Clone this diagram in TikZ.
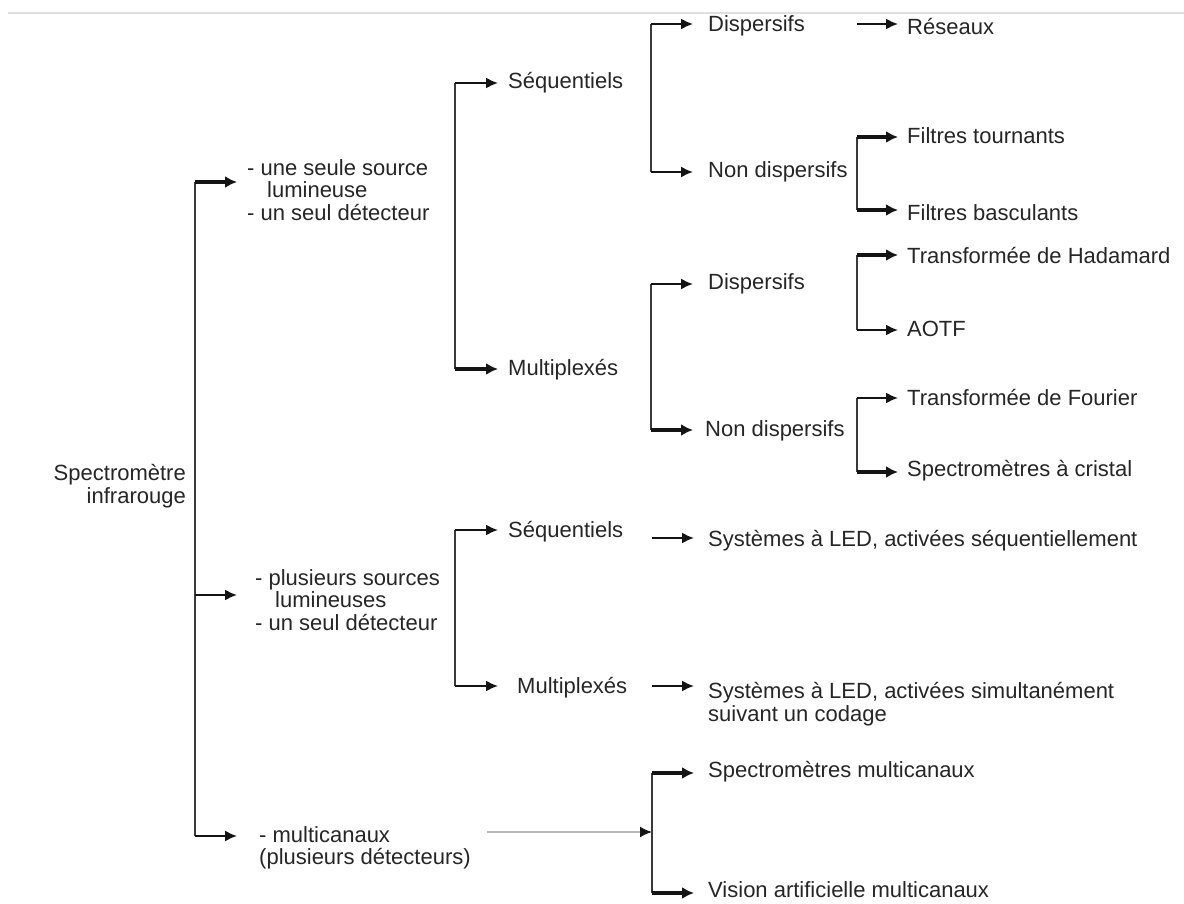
\documentclass[tikz,border=0pt]{standalone}
\usepackage{fontspec}
\setmainfont{Liberation Sans}
\usetikzlibrary{arrows.meta}
\definecolor{ink}{HTML}{141414}
\definecolor{busc}{HTML}{3A3A3A}
\definecolor{txt}{HTML}{262626}
\begin{document}
\begin{tikzpicture}[x=1pt,y=-1pt,
  lbl/.style={anchor=west, inner xsep=10pt, inner ysep=0pt, text=txt,
              font=\fontsize{22}{22.5}\selectfont, align=left},
  bus/.style={draw=busc, line width=1.6pt},
  arr/.style={draw=ink, line width=1.9pt, -{Latex[length=12pt,width=11pt]}},
  tarr/.style={draw=ink, line width=3.6pt, -{Latex[length=12pt,width=12pt]}},
  garr/.style={draw=gray!55, line width=1.7pt, -{Latex[length=12pt,width=11pt,color=ink]}}]
\useasboundingbox (0,0) rectangle (1184,904);
\fill[white] (0,0) rectangle (1184,904);
\draw[gray!25, line width=1.5pt] (8,13) -- (1184,13);

% root
\node[lbl, anchor=east, align=right, inner xsep=0pt] (root) at (186,486) {Spectromètre\\infrarouge};

% main bus
\coordinate (m1) at (195,182);
\coordinate (m2) at (195,595);
\coordinate (m3) at (195,836);
\draw[bus] (m1) -- (m3);

\node[lbl] (n1) at (237,190) {- une seule source\\\hspace*{20pt}lumineuse\\- un seul détecteur};
\node[lbl, inner xsep=18pt] (n2) at (237,600) {- plusieurs sources\\\hspace*{20pt}lumineuses\\- un seul détecteur};
\node[lbl, inner xsep=22pt] (n3) at (237,848) {- multicanaux\\(plusieurs détecteurs)};
\draw[tarr] (m1) -- (m1 -| n1.west);
\draw[arr] (m2) -- (m2 -| n2.west);
\draw[arr] (m3) -- (m3 -| n3.west);

% branch 1, level 2
\coordinate (s1t) at (455,83);
\coordinate (s1b) at (455,369);
\draw[bus] (s1t) -- (s1b);
\node[lbl] (seq1) at (498,83) {Séquentiels};
\node[lbl] (mul1) at (498,370) {Multiplexés};
\draw[arr] (s1t) -- (s1t -| seq1.west);
\draw[tarr] (s1b) -- (s1b -| mul1.west);

% Sequentiels -> level 3
\coordinate (d1t) at (651,24);
\coordinate (d1b) at (651,172);
\draw[bus] (d1t) -- (d1b);
\node[lbl, inner xsep=15pt] (disp1) at (693,26) {Dispersifs};
\node[lbl, inner xsep=15pt] (ndisp1) at (693,172) {Non dispersifs};
\draw[arr] (d1t) -- (d1t -| disp1.west);
\draw[arr] (d1b) -- (d1b -| ndisp1.west);

\coordinate (r0) at (857,24);
\node[lbl, inner xsep=9pt] (res) at (898,27) {Réseaux};
\draw[arr] (r0) -- (r0 -| res.west);

\coordinate (f1t) at (857,137);
\coordinate (f1b) at (857,210);
\draw[bus] (f1t) -- (f1b);
\node[lbl, inner xsep=9pt] (ft) at (898,136) {Filtres tournants};
\node[lbl, inner xsep=9pt] (fb) at (898,213) {Filtres basculants};
\draw[tarr] (f1t) -- (f1t -| ft.west);
\draw[tarr] (f1b) -- (f1b -| fb.west);

% Multiplexes -> level 3
\coordinate (d2t) at (651,284);
\coordinate (d2b) at (651,430);
\draw[bus] (d2t) -- (d2b);
\node[lbl, inner xsep=15pt] (disp2) at (693,284) {Dispersifs};
\node[lbl, inner xsep=12pt] (ndisp2) at (693,431) {Non dispersifs};
\draw[arr] (d2t) -- (d2t -| disp2.west);
\draw[tarr] (d2b) -- (d2b -| ndisp2.west);

\coordinate (h1t) at (857,255);
\coordinate (h1b) at (857,330);
\draw[bus] (h1t) -- (h1b);
\node[lbl, inner xsep=9pt] (had) at (898,256) {Transformée de Hadamard};
\node[lbl, inner xsep=9pt] (aotf) at (898,329) {AOTF};
\draw[tarr] (h1t) -- (h1t -| had.west);
\draw[arr] (h1b) -- (h1b -| aotf.west);

\coordinate (q1t) at (857,398);
\coordinate (q1b) at (857,472);
\draw[bus] (q1t) -- (q1b);
\node[lbl, inner xsep=9pt] (four) at (898,398) {Transformée de Fourier};
\node[lbl, inner xsep=9pt] (cris) at (898,471) {Spectromètres à cristal};
\draw[arr] (q1t) -- (q1t -| four.west);
\draw[tarr] (q1b) -- (q1b -| cris.west);

% branch 2
\coordinate (s2t) at (455,530);
\coordinate (s2b) at (455,686);
\draw[bus] (s2t) -- (s2b);
\node[lbl] (seq2) at (498,532) {Séquentiels};
\node[lbl, inner xsep=19pt] (mul2) at (498,688) {Multiplexés};
\draw[arr] (s2t) -- (s2t -| seq2.west);
\draw[arr] (s2b) -- (s2b -| mul2.west);

\coordinate (l1) at (652,538);
\coordinate (l2) at (652,686);
\node[lbl, inner xsep=14pt] (led1) at (694,541) {Systèmes à LED, activées séquentiellement};
\node[lbl, inner xsep=14pt] (led2) at (694,704) {Systèmes à LED, activées simultanément\\suivant un codage};
\draw[arr] (l1) -- (l1 -| led1.west);
\draw[arr] (l2) -- (l2 -| led2.west);

% branch 3
\coordinate (g0) at (487,832);
\coordinate (vt) at (652,773);
\coordinate (vb) at (652,893);
\coordinate (vm) at (652,832);
\draw[garr] (g0) -- (vm);
\draw[bus] (vt) -- (vb);
\node[lbl, inner xsep=14pt] (spm) at (694,772) {Spectromètres multicanaux};
\node[lbl, inner xsep=14pt] (vis) at (694,890) {Vision artificielle multicanaux};
\draw[tarr] (vt) -- (vt -| spm.west);
\draw[tarr] (vb) -- (vb -| vis.west);
\end{tikzpicture}
\end{document}
